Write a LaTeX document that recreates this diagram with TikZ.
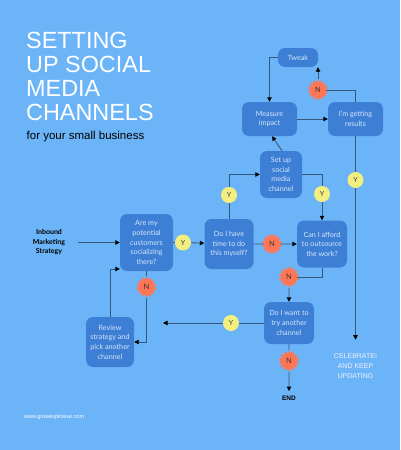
\documentclass[tikz,border=0pt]{standalone}
\usepackage{fontspec}
\setmainfont{Liberation Sans}
\newfontfamily\lato{Lato}
\usetikzlibrary{arrows.meta,shapes.geometric}
\definecolor{bgc}{HTML}{6CB4F8}
\definecolor{boxc}{HTML}{3E7FD6}
\definecolor{boxt}{HTML}{D6E6F8}
\definecolor{linec}{HTML}{34587E}
\definecolor{yc}{HTML}{F2EE80}
\definecolor{nc}{HTML}{FF7657}
\tikzset{
  box/.style={fill=boxc, rounded corners=7pt, align=center, text=boxt,
    font=\lato\fontsize{7.2}{9.6}\selectfont, inner sep=0pt},
  ln/.style={draw=linec, line width=0.9pt},
  conn/.style={ln, -{Triangle[length=4.5pt,width=4.5pt,color=black]}},
  ymark/.style={circle, fill=yc, minimum size=16pt, inner sep=0pt,
    font=\lato\fontsize{7}{8}\selectfont, text=black!75},
  nmark/.style={star, star points=14, star point ratio=1.35, fill=nc,
    minimum size=21pt, inner sep=0pt, font=\lato\fontsize{7.5}{8}\selectfont, text=black!80}
}
\begin{document}
\begin{tikzpicture}[x=1pt,y=-1pt]
\useasboundingbox (0,0) rectangle (400,450);
\fill[bgc] (0,0) rectangle (400,450);

% title
\node[anchor=base west, align=left, inner sep=0pt, text=white,
  font=\fontsize{23.4}{24}\selectfont] (title) at (26,120.5)
  {SETTING\\UP SOCIAL\\MEDIA\\CHANNELS};
\node[anchor=base west, inner sep=0pt, font=\fontsize{11.5}{13}\selectfont] (sub) at (26.5,139)
  {for your small business};

% boxes
\node[box, minimum width=40pt, minimum height=19pt] (tweak) at (298,57.5) {Tweak};
\node[box, minimum width=55pt, minimum height=34pt] (measure) at (269.5,119) {Measure\\impact};
\node[box, minimum width=55pt, minimum height=34pt] (results) at (355.5,119) {I’m getting\\results};
\node[box, minimum width=42pt, minimum height=47pt] (setup) at (281,174.5) {Set up\\social\\media\\channel};
\node[box, minimum width=49pt, minimum height=50pt] (doi) at (229,244) {Do I have\\time to do\\this myself?};
\node[box, minimum width=50pt, minimum height=47pt] (afford) at (322,244) {Can I afford\\to outsource\\the work?};
\node[box, minimum width=53pt, minimum height=57pt] (aremy) at (146.5,242.5) {Are my\\potential\\customers\\socializing\\there?};
\node[box, minimum width=48pt, minimum height=50pt] (review) at (110,342) {Review\\strategy and\\pick another\\channel};
\node[box, minimum width=50pt, minimum height=42pt] (want) at (289,323) {Do I want to\\try another\\channel};

% plain texts
\node[align=center, inner sep=0pt, font=\lato\bfseries\fontsize{7}{9.5}\selectfont] (inbound) at (49,242.5)
  {Inbound\\Marketing\\Strategy};
\node[inner sep=0pt, font=\bfseries\fontsize{6.5}{8}\selectfont] (endn) at (289,398.5) {END};
\node[align=center, inner sep=0pt, text=white!94!blue, font=\fontsize{7}{9.6}\selectfont] (celeb) at (355.5,366)
  {CELEBRATE!\\AND KEEP\\UPDATING};
\node[anchor=base west, inner sep=0pt, text=white, font=\fontsize{5.5}{6}\selectfont] (web) at (24,418)
  {www.growexplosive.com};

% markers
\node[nmark] (nT) at (318,90) {N};
\node[ymark] (yRes) at (355.5,180) {Y};
\node[ymark] (ySet) at (229,195) {Y};
\node[ymark] (ySet2) at (322,194) {Y};
\node[nmark] (nDo) at (272,244) {N};
\node[ymark] (yAre) at (183,242.5) {Y};
\node[nmark] (nAre) at (146.5,287) {N};
\node[nmark] (nAff) at (289,277) {N};
\node[ymark] (yWant) at (231,323) {Y};
\node[nmark] (nWant) at (289,361) {N};
\coordinate (wantEnd) at (163,323);

% connectors
\draw[conn] (tweak.west) -| (measure.north);
\draw[conn] (measure) -- (results);
\draw[ln] (results.north) |- (nT);
\draw[conn] (nT) -- (nT |- tweak.south);
\draw[ln] (results.south) -- (yRes);
\draw[conn, shorten >=14pt] (yRes) -- (celeb.north);
\draw[conn] ([xshift=1pt]setup.north) -- ([xshift=2.5pt]measure.south);
\draw[ln] (doi.north) -- (ySet);
\draw[conn] (ySet) |- (setup.west);
\draw[ln] (setup.east) -| (ySet2);
\draw[conn] (ySet2) -- (afford.north);
\draw[ln] (doi) -- (nDo);
\draw[conn] (nDo) -- (afford);
\draw[conn] ([xshift=13pt]inbound.east) -- (aremy.west);
\draw[ln] (aremy) -- (yAre);
\draw[conn] (yAre) -- (doi);
\draw[ln] (aremy.south) -- (nAre);
\draw[conn] (nAre) |- (review.east);
\draw[conn] (review.north) |- ([yshift=-26.5pt]aremy.west);
\draw[ln] (afford.south) |- (nAff);
\draw[conn] (nAff) -- (want.north);
\draw[ln] (want) -- (yWant);
\draw[conn] (yWant) -- (wantEnd);
\draw[ln] (want) -- (nWant);
\draw[conn, shorten >=5pt] (nWant) -- (endn.north);
\end{tikzpicture}
\end{document}
